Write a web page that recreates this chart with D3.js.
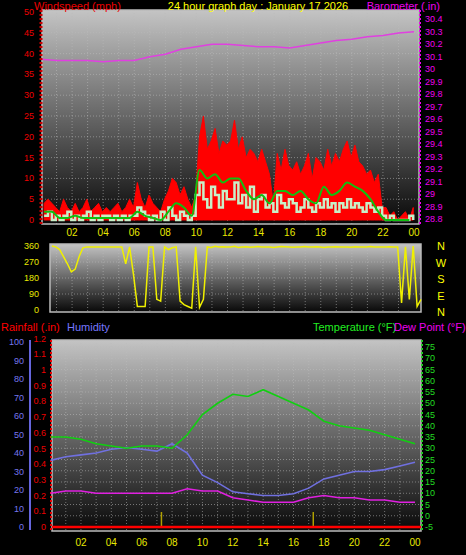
<!DOCTYPE html><html><head><meta charset="utf-8"><script src="https://cdn.jsdelivr.net/npm/d3@7"></script>
<style>body{margin:0;background:#000}svg{display:block;font-family:"Liberation Sans",Arial,sans-serif}</style></head><body><svg id="c" width="466" height="555"></svg>
<script>
const hourLabels=["02","04","06","08","10","12","14","16","18","20","22","00"];
const gust=[4,5,4,3,2,5,3,2, 4,2,3,5,2,3,4,2, 3,2,3,4,2,3,5,3, 9,5,3,6,4,3,2,5, 7,10,9,6,8,5,3,6,
 20,25,17,19,22,16,19,18, 19,24,17,20,15,17,16,14, 17,14,11,4,16,12,17,13, 12,14,11,13,16,10,15,14,
 12,17,13,16,14,17,19,15, 18,14,13,11,12,9,11,3, 3,1,2,0,1,2,0,3];
const avgWind=[1,2,0,1,0,1,2,0, 1,0,1,2,0,1,0,1, 1,0,1,0,1,0,1,1, 3,2,1,0,1,0,2,0, 3,1,0,2,1,0,1,6,
 9,5,3,8,6,3,7,5, 5,9,4,6,3,8,2,5, 6,3,4,2,6,4,3,5, 4,2,3,5,3,2,4,3,
 5,3,4,2,4,3,5,3, 4,3,2,4,3,2,3,1, 0,1,0,0,0,0,1,0];
const avg10=[2,2,0.5,0.5, 1,0.5,0.5,0.5, 0.5,0.5,0.5,0.5, 2,1,0.5,0, 2,4,3,1,
 12,10,11,9, 10,10,7,5, 6,4,7,7, 6,7,5,4, 8,6,7,9, 8,7,5,2, 0,0,0,0];
const baro=[30.08,30.07,30.07,30.07,30.06,30.07,30.07,30.10,30.12,30.16,30.18,30.20,30.20,30.19,30.18,30.18,30.17,30.19,30.21,30.23,30.24,30.26,30.27,30.29,30.30];
const dir=[360,355,340,300, 260,215,230,300, 350,355,355,355, 355,355,355,355, 355,355,355,260, 355,200,20,20,
 20,355,355,60, 50,355,340,350, 355,50,30,20, 10,355,15,60,
 355,352,358,355, 356,354,355,358, 352,355,356,353, 355,357,354,355, 355,352,355,357, 356,355,353,355,
 355,357,355,354, 356,355,352,355, 355,356,354,355, 355,353,356,355, 354,355,357,355, 355,354,355,356,
 355,355,40,355, 60,360,20,60];
const hours=d3.range(25);
const temp=[35,35,34,32,31,30,31,31,30,36,45,50,54,53,56,53,50,47,42,40,39,38,36,34,32];
const hum=[36,38,39,40,42,43,42,41,45,40,28,24,19,18,17,17,18,21,26,28,30,30,31,33,35];
const dew=[10,11,11,10,10,10,10,10,10,12,11,11,8,7,6,6,6,8,9,8,8,7,7,6,6];
const rainEvents=[7.3,17.3];

const svg=d3.select("#c");
const grad=svg.append("defs").append("linearGradient").attr("id","bg").attr("x1",0).attr("x2",0).attr("y1",0).attr("y2",1);
grad.append("stop").attr("offset","0%").attr("stop-color","#c4c4c4");
grad.append("stop").attr("offset","100%").attr("stop-color","#080808");
const F="10px";
function panel(x0,x1,y0,y1){svg.append("rect").attr("x",x0).attr("y",y0).attr("width",x1-x0).attr("height",y1-y0).attr("fill","url(#bg)").attr("stroke","#bbb").attr("stroke-width",1.5);}
function grid(x,y0,y1,yTicks,yS,x0,x1){
  const g=svg.append("g").attr("stroke","#bbb").attr("stroke-opacity",0.55).attr("stroke-dasharray","1,2");
  d3.range(1,24).forEach(h=>g.append("line").attr("x1",x(h)).attr("x2",x(h)).attr("y1",y0).attr("y2",y1));
  yTicks.forEach(t=>g.append("line").attr("x1",x0).attr("x2",x1).attr("y1",yS(t)).attr("y2",yS(t)));
}
function xlabels(x,y){hourLabels.forEach((l,i)=>svg.append("text").attr("x",x(2*(i+1))).attr("y",y).attr("text-anchor","middle").attr("fill","#e8e800").attr("font-size",F).text(l));}
// ---------- top panel
const xT=d3.scaleLinear().domain([0,24]).range([41,414]);
const yW=d3.scaleLinear().domain([0,50]).range([220,12]);
const yB=d3.scaleLinear().domain([28.8,30.4]).range([219,19.3]);
panel(42,419,10,224);
grid(xT,10,224,d3.range(5,50,5),yW,42,419);
const q=d3.range(96).map(i=>i/4+0.2);
const stepA=d3.area().curve(d3.curveLinear).x((d,i)=>xT(q[i])).y0(yW(0)).y1(d=>yW(d));
svg.append("path").datum(gust).attr("d",stepA).attr("fill","#f00").attr("stroke","#f00").attr("stroke-width",1);
svg.append("path").datum(avgWind).attr("d",d3.line().curve(d3.curveStepAfter).x((d,i)=>xT(q[i])).y(d=>yW(d))).attr("fill","none").attr("stroke","#c8f0c8").attr("stroke-width",2.5);
svg.append("path").datum(avg10).attr("d",d3.line().curve(d3.curveMonotoneX).x((d,i)=>xT(i/2+0.2)).y(d=>yW(d))).attr("fill","none").attr("stroke","#10c010").attr("stroke-width",2);
svg.append("path").datum(baro).attr("d",d3.line().x((d,i)=>xT(hours[i])).y(d=>yB(d))).attr("fill","none").attr("stroke","#e040e0").attr("stroke-width",1.5);
svg.append("line").attr("x1",41).attr("x2",41).attr("y1",10).attr("y2",224).attr("stroke","#c00").attr("stroke-dasharray","2,2").attr("stroke-width",3);
svg.append("line").attr("x1",420).attr("x2",420).attr("y1",10).attr("y2",224).attr("stroke","#e0e").attr("stroke-dasharray","2,2").attr("stroke-width",2);
d3.range(0,51,5).forEach(t=>svg.append("text").attr("x",34).attr("y",yW(t)+3).attr("text-anchor","end").attr("fill","#e00").attr("font-size","9px").text(t));
d3.range(28.8,30.41,0.1).forEach(t=>svg.append("text").attr("x",425).attr("y",yB(t)+3).attr("fill","#e0e").attr("font-size","9px").text(+t.toFixed(1)));
xlabels(xT,236);
svg.append("text").attr("x",34).attr("y",10).attr("fill","#e00").attr("font-size","11px").text("Windspeed (mph)");
svg.append("text").attr("x",258).attr("y",10).attr("text-anchor","middle").attr("fill","#ff0").attr("font-size","11px").text("24 hour graph day : January 17 2026");
svg.append("text").attr("x",440).attr("y",10).attr("text-anchor","end").attr("fill","#e0e").attr("font-size","11px").text("Barometer (.in)");
// ---------- direction
const yD=d3.scaleLinear().domain([0,360]).range([310,246]);
panel(50,421,244,312);
grid(xT,244,312,[90,180,270],yD,50,421);
svg.append("path").datum(dir).attr("d",d3.line().x((d,i)=>xT(i/4+0.7)).y(d=>yD(d))).attr("fill","none").attr("stroke","#f0f000").attr("stroke-width",1.5);
[0,90,180,270,360].forEach(t=>svg.append("text").attr("x",39).attr("y",yD(t)+3).attr("text-anchor","end").attr("fill","#e8e800").attr("font-size","9px").text(t));
["N","W","S","E","N"].forEach((l,i)=>svg.append("text").attr("x",441).attr("y",250+i*16.5).attr("text-anchor","middle").attr("fill","#ff0").attr("font-size","11px").text(l));
// ---------- bottom
svg.append("text").attr("x",1).attr("y",331).attr("fill","#f00").attr("font-size","11px").text("Rainfall (.in)");
svg.append("text").attr("x",67).attr("y",331).attr("fill","#77f").attr("font-size","11px").text("Humidity");
svg.append("text").attr("x",313).attr("y",331).attr("fill","#2e2").attr("font-size","11px").text("Temperature (°F)");
svg.append("text").attr("x",394).attr("y",331).attr("fill","#e0e").attr("font-size","11px").text("Dew Point (°F)");
const xB=d3.scaleLinear().domain([0,24]).range([50.6,415]);
const yH=d3.scaleLinear().domain([0,100]).range([527,342]);
const yR=d3.scaleLinear().domain([0,1]).range([527,370]);
const yTmp=d3.scaleLinear().domain([-5,75]).range([527,347]);
panel(52,421,340,531);
grid(xB,340,531,d3.range(-5,76,5),yTmp,52,421);
svg.append("line").attr("x1",30).attr("x2",30).attr("y1",340).attr("y2",530).attr("stroke","#66d").attr("stroke-width",2);
svg.append("line").attr("x1",51).attr("x2",51).attr("y1",340).attr("y2",530).attr("stroke","#e00").attr("stroke-dasharray","2,2").attr("stroke-width",2);
svg.append("line").attr("x1",422).attr("x2",422).attr("y1",340).attr("y2",530).attr("stroke","#2c2").attr("stroke-dasharray","2,2").attr("stroke-width",2);
d3.range(0,101,10).forEach(t=>svg.append("text").attr("x",24).attr("y",yH(t)+3).attr("text-anchor","end").attr("fill","#77e").attr("font-size","9px").text(t));
d3.range(0,1.21,0.1).forEach(t=>svg.append("text").attr("x",46).attr("y",yR(t)+3).attr("text-anchor","end").attr("fill","#e00").attr("font-size","9px").text(+t.toFixed(1)));
d3.range(-5,76,5).forEach(t=>svg.append("text").attr("x",425).attr("y",yTmp(t)+3).attr("fill","#2d2").attr("font-size","9px").text(t));
rainEvents.forEach(h=>svg.append("line").attr("x1",xB(h)).attr("x2",xB(h)).attr("y1",512).attr("y2",527).attr("stroke","#b0a000").attr("stroke-width",1.5));
svg.append("line").attr("x1",52).attr("x2",421).attr("y1",yR(0)).attr("y2",yR(0)).attr("stroke","#f00").attr("stroke-width",2.5);
const ln=(arr,ys,c)=>svg.append("path").datum(arr).attr("d",d3.line().x((d,i)=>xB(hours[i])).y(d=>ys(d))).attr("fill","none").attr("stroke",c).attr("stroke-width",1.6);
ln(hum,yH,"#7070e0");ln(dew,yTmp,"#e020e0");ln(temp,yTmp,"#10d010");
xlabels(xB,546);
</script></body></html>
